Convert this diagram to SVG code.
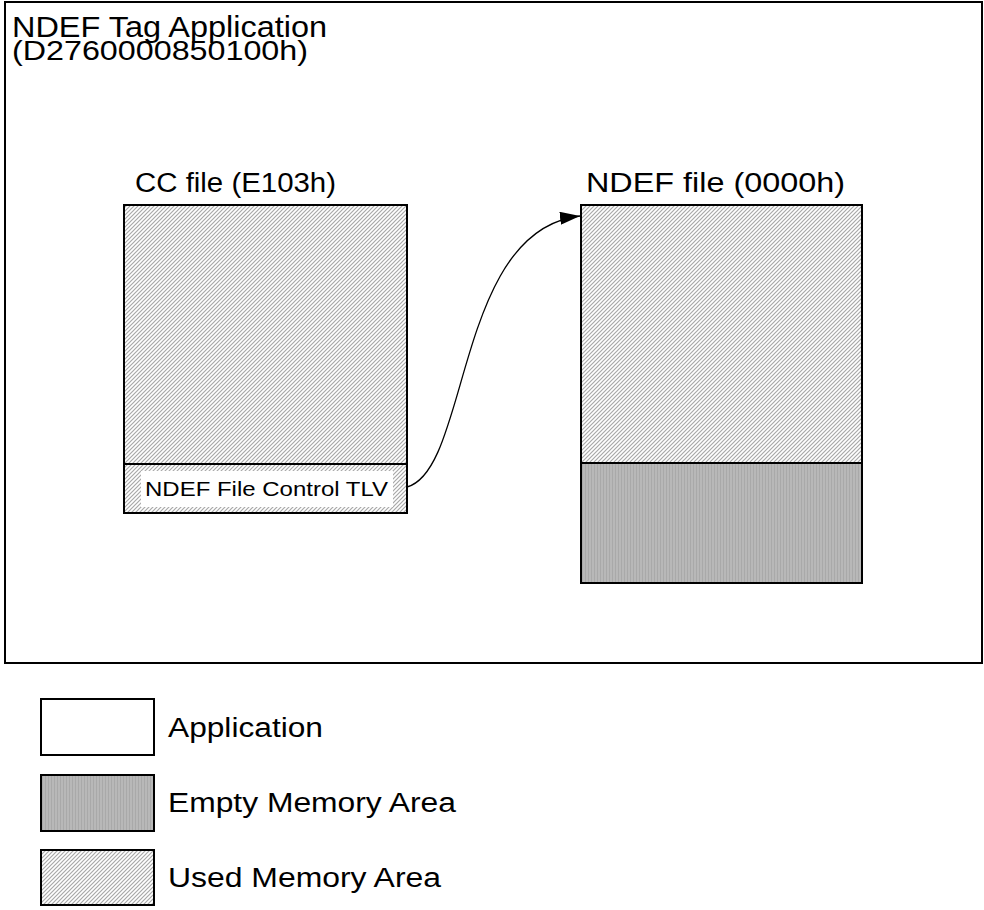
<svg xmlns="http://www.w3.org/2000/svg" width="984" height="910" viewBox="0 0 984 910">
<defs>
<style>
text{font-family:"Liberation Sans",Arial,sans-serif;fill:#000}
.box{stroke:#000;stroke-width:2}
.used{fill:url(#hatch)}
.empty{fill:url(#dots)}
</style>
<pattern id="hatch" patternUnits="userSpaceOnUse" width="4" height="4">
<rect width="4" height="4" fill="#fff"/>
<path d="M-1,1 L1,-1 M0,4 L4,0 M3,5 L5,3" stroke="#a8a8a8" stroke-width="1.2"/>
</pattern>
<pattern id="dots" patternUnits="userSpaceOnUse" width="3" height="3">
<rect width="3" height="3" fill="#b8b8b8"/>
<rect x="0" y="0" width="1" height="3" fill="#a9a9a9"/>
</pattern>
<marker id="arrow" markerWidth="20" markerHeight="13" refX="20" refY="6.5" orient="auto" markerUnits="userSpaceOnUse">
<path d="M0,0 L20,6.5 L0,13 Z" fill="#000"/>
</marker>
</defs>
<g id="application">
<rect x="5" y="2" width="977" height="661" fill="#fff" class="box"/>
<text x="12" y="37" font-size="29" textLength="315" lengthAdjust="spacingAndGlyphs">NDEF Tag Application</text>
<text x="12" y="60" font-size="28" textLength="296" lengthAdjust="spacingAndGlyphs">(D2760000850100h)</text>
</g>
<g id="cc-file">
<text x="135" y="192" font-size="27" textLength="201" lengthAdjust="spacingAndGlyphs">CC file (E103h)</text>
<rect x="124" y="205" width="283" height="259" class="box used"/>
<rect x="124" y="464" width="283" height="49" class="box used"/>
<rect x="141" y="471" width="252" height="36" fill="#fff"/>
<text x="145" y="496" font-size="21" textLength="243" lengthAdjust="spacingAndGlyphs">NDEF File Control TLV</text>
</g>
<g id="ndef-file">
<text x="586" y="192" font-size="27" textLength="259" lengthAdjust="spacingAndGlyphs">NDEF file (0000h)</text>
<rect x="581" y="205" width="281" height="258" class="box used"/>
<rect x="581" y="463" width="281" height="120" class="box empty"/>
</g>
<g id="connectors">
<path d="M407,487 C470,470 455,230 580,216" fill="none" stroke="#000" stroke-width="1.3" marker-end="url(#arrow)"/>
</g>
<g id="legend-application">
<rect x="41" y="699" width="113" height="56" fill="#fff" class="box"/>
<text x="168" y="737" font-size="27" textLength="155" lengthAdjust="spacingAndGlyphs">Application</text>
</g>
<g id="legend-empty">
<rect x="41" y="775" width="113" height="56" class="box empty"/>
<text x="168" y="812" font-size="27" textLength="288" lengthAdjust="spacingAndGlyphs">Empty Memory Area</text>
</g>
<g id="legend-used">
<rect x="41" y="850" width="113" height="55" class="box used"/>
<text x="168" y="887" font-size="27" textLength="273" lengthAdjust="spacingAndGlyphs">Used Memory Area</text>
</g>
</svg>
